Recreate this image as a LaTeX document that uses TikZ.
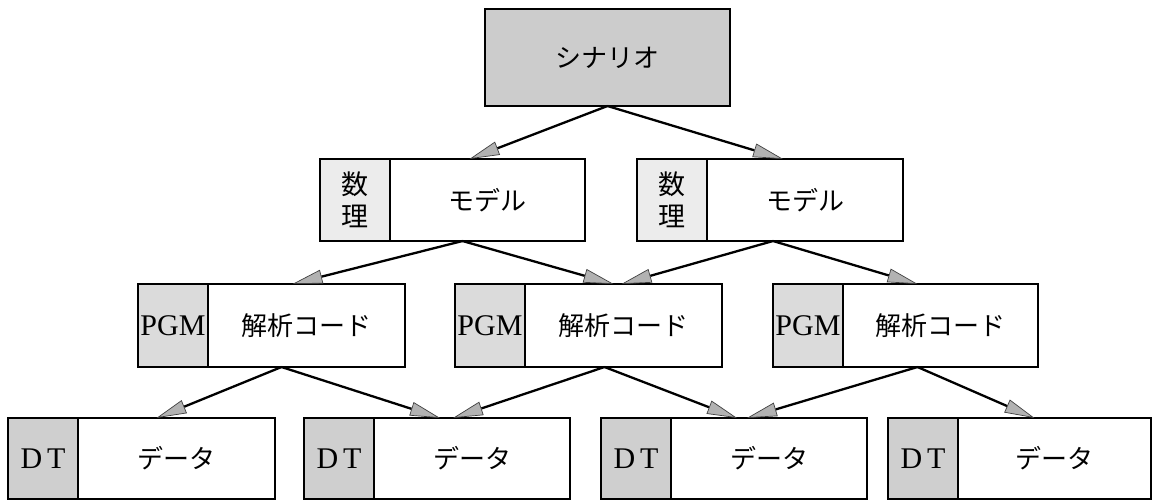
\documentclass[tikz,border=0pt]{standalone}
\usepackage{fontspec}
\setmainfont{Liberation Serif}
\newfontfamily\jp{Noto Sans CJK JP}
\usetikzlibrary{arrows.meta,calc}
\begin{document}
\begin{tikzpicture}[x=1pt,y=-1pt,
  box/.style={draw, line width=2.2pt, inner sep=0pt, outer sep=0pt},
  cell/.style={draw, line width=1.6pt, inner sep=0pt, outer sep=0pt, anchor=west},
  arr/.style={line width=2.3pt, -{Triangle[length=30pt,width=14pt,fill=gray!60,color=black!75,line width=0.7pt]}},
  jtxt/.style={font=\jp\fontsize{26}{28}\selectfont},
  ltxt/.style={font=\fontsize{30}{31}\selectfont}
]
\useasboundingbox (0,0) rectangle (1152,501);

% scenario
\node[box, fill=gray!40, minimum width=245pt, minimum height=97pt, jtxt] (scen) at (607.5,57.5) {シナリオ};

% model row
\foreach \n/\x/\w in {m1/452.5/265, m2/770/266} {
  \node[box, minimum width=\w pt, minimum height=82pt] (\n) at (\x,200) {};
  \node[cell, fill=gray!15, minimum width=70pt, minimum height=82pt, align=center,
        font=\jp\fontsize{27}{32}\selectfont] (\n c) at (\n.west) {数\\理};
  \node[jtxt] (\n t) at ($(\n c.east)!0.5!(\n.east)$) {モデル};
}

% program row
\foreach \n/\x/\w in {p1/271.5/267, p2/588.5/267, p3/905.5/265} {
  \node[box, minimum width=\w pt, minimum height=83pt] (\n) at (\x,325.5) {};
  \node[cell, fill=gray!28, minimum width=70pt, minimum height=83pt, ltxt] (\n c) at (\n.west) {PGM};
  \node[jtxt] (\n t) at ($(\n c.east)!0.5!(\n.east)$) {解析コード};
}

% data row
\foreach \n/\x/\w in {d1/141.5/267, d2/437/266, d3/734/266, d4/1019.5/263} {
  \node[box, minimum width=\w pt, minimum height=81pt] (\n) at (\x,458.5) {};
  \node[cell, fill=gray!38, minimum width=70pt, minimum height=81pt, ltxt] (\n c) at (\n.west) {D\,T};
  \node[jtxt] (\n t) at ($(\n c.east)!0.5!(\n.east)$) {データ};
}

% connectors
\draw[arr] (scen.south) -- ([xshift=17pt]m1.north);
\draw[arr] (scen.south) -- ([xshift=13pt]m2.north);
\draw[arr] ([xshift=10pt]m1.south) -- ([xshift=21pt]p1.north);
\draw[arr] ([xshift=10pt]m1.south) -- ([xshift=25pt]p2.north);
\draw[arr] ([xshift=3pt]m2.south) -- ([xshift=33pt]p2.north);
\draw[arr] ([xshift=3pt]m2.south) -- ([xshift=12pt]p3.north);
\draw[arr] ([xshift=10pt]p1.south) -- ([xshift=15pt]d1.north);
\draw[arr] ([xshift=10pt]p1.south) -- ([xshift=3pt]d2.north);
\draw[arr] ([xshift=16pt]p2.south) -- ([xshift=16pt]d2.north);
\draw[arr] ([xshift=16pt]p2.south) -- ([xshift=3pt]d3.north);
\draw[arr] ([xshift=12pt]p3.south) -- ([xshift=13pt]d3.north);
\draw[arr] ([xshift=12pt]p3.south) -- ([xshift=15pt]d4.north);
\end{tikzpicture}
\end{document}
